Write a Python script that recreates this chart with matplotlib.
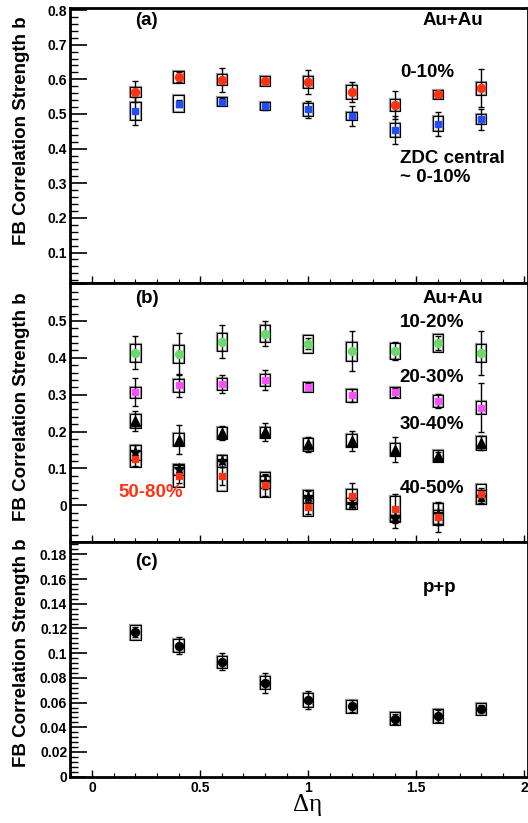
import matplotlib

matplotlib.use("Agg")
import matplotlib.pyplot as plt
import numpy as np
from matplotlib.patches import Rectangle
from matplotlib.ticker import FuncFormatter, MultipleLocator

plt.rcParams["font.family"] = ["Liberation Sans", "DejaVu Sans"]
plt.rcParams["font.weight"] = "bold"

# Delta eta bins
d_eta = [0.2, 0.4, 0.6, 0.8, 1.0, 1.2, 1.4, 1.6, 1.8]

# (a) Au+Au central
b_0_10 = [0.564, 0.607, 0.599, 0.595, 0.592, 0.564, 0.526, 0.557, 0.574]
stat_0_10 = [0.030, 0.015, 0.035, 0.008, 0.034, 0.029, 0.040, 0.010, 0.055]
sys_0_10 = [0.015, 0.017, 0.016, 0.014, 0.017, 0.020, 0.016, 0.013, 0.019]

b_zdc = [0.509, 0.530, 0.536, 0.524, 0.513, 0.494, 0.453, 0.472, 0.485]
stat_zdc = [0.040, 0.010, 0.010, 0.012, 0.025, 0.028, 0.040, 0.035, 0.030]
sys_zdc = [0.027, 0.024, 0.013, 0.012, 0.018, 0.011, 0.020, 0.021, 0.015]

# (b) Au+Au other centralities
b_10_20 = [0.414, 0.411, 0.444, 0.466, 0.438, 0.418, 0.418, 0.440, 0.414]
stat_10_20 = [0.045, 0.057, 0.045, 0.033, 0.015, 0.055, 0.025, 0.020, 0.060]
sys_10_20 = [0.0245, 0.0245, 0.0245, 0.024, 0.024, 0.026, 0.022, 0.025, 0.024]

b_20_30 = [0.307, 0.325, 0.329, 0.340, 0.322, 0.298, 0.307, 0.283, 0.265]
stat_20_30 = [0.037, 0.031, 0.025, 0.028, 0.010, 0.017, 0.012, 0.018, 0.067]
sys_20_30 = [0.015, 0.017, 0.017, 0.016, 0.0135, 0.017, 0.015, 0.016, 0.017]

b_30_40 = [0.228, 0.178, 0.196, 0.198, 0.165, 0.175, 0.151, 0.133, 0.169]
stat_30_40 = [0.027, 0.040, 0.020, 0.024, 0.021, 0.027, 0.033, 0.012, 0.018]
sys_30_40 = [0.019, 0.018, 0.017, 0.015, 0.018, 0.018, 0.018, 0.016, 0.020]

b_40_50 = [0.144, 0.097, 0.120, 0.063, 0.023, 0.004, -0.036, -0.025, 0.022]
stat_40_50 = [0.020, 0.012, 0.015, 0.020, 0.015, 0.010, 0.025, 0.030, 0.015]
sys_40_50 = [0.020, 0.014, 0.015, 0.015, 0.018, 0.015, 0.010, 0.030, 0.020]

b_50_80 = [0.126, 0.079, 0.079, 0.056, -0.005, 0.024, -0.009, -0.032, 0.030]
stat_50_80 = [0.020, 0.020, 0.025, 0.030, 0.020, 0.035, 0.040, 0.040, 0.018]
sys_50_80 = [0.022, 0.030, 0.040, 0.035, 0.025, 0.020, 0.033, 0.020, 0.028]

# (c) p+p
b_pp = [0.117, 0.106, 0.093, 0.076, 0.062, 0.057, 0.047, 0.049, 0.055]
stat_pp = [0.004, 0.007, 0.007, 0.008, 0.007, 0.005, 0.004, 0.005, 0.003]
sys_pp = [0.006, 0.0054, 0.005, 0.0054, 0.0054, 0.0053, 0.005, 0.0058, 0.005]

RED = "#ff3311"
BLUE = "#1f4dff"
GREEN = "#6bd96b"
MAGENTA = "#ff4dff"

BOX_HW = 0.024


def fmt_tick(v, pos):
    v = round(v, 6) + 0.0
    return f"{v:g}"


def draw_series(ax, y, stat, sys, color, marker, ms):
    for x, yy, s in zip(d_eta, y, sys):
        ax.add_patch(Rectangle((x - BOX_HW, yy - s), 2 * BOX_HW, 2 * s,
                               facecolor="none", edgecolor="#999999",
                               lw=1.6, zorder=2))
        ax.add_patch(Rectangle((x - BOX_HW, yy - s), 2 * BOX_HW, 2 * s,
                               facecolor="none", edgecolor="black",
                               lw=0.8, zorder=2.1))
    ax.errorbar(d_eta, y, yerr=stat, fmt="none", ecolor="black",
                elinewidth=1.0, capsize=2.2, capthick=1.0, zorder=3)
    ax.plot(d_eta, y, linestyle="none", marker=marker, color=color,
            markeredgecolor=color, markersize=ms, zorder=4)


def style_axes(ax, ylim, major, minor, show_x=False, label_range=None):
    ax.set_xlim(-0.103, 2.017)
    ax.set_ylim(*ylim)
    for side in ["left", "bottom", "top", "right"]:
        ax.spines[side].set_linewidth(2.0)
    ax.xaxis.set_major_locator(MultipleLocator(0.5))
    ax.xaxis.set_minor_locator(MultipleLocator(0.1))
    ax.yaxis.set_major_locator(MultipleLocator(major))
    ax.yaxis.set_minor_locator(MultipleLocator(minor))
    ax.tick_params(axis="y", which="major", direction="in", length=12,
                   width=1.2, labelsize=10, pad=2)
    ax.tick_params(axis="y", which="minor", direction="in", length=6,
                   width=1.0)
    ax.tick_params(axis="x", which="major", direction="in", length=5,
                   width=1.0, labelsize=10, pad=3)
    ax.tick_params(axis="x", which="minor", direction="in", length=3,
                   width=0.8)
    ax.tick_params(top=False, right=False, which="both")
    if label_range is None:
        ax.yaxis.set_major_formatter(FuncFormatter(fmt_tick))
    else:
        lo, hi = label_range
        ax.yaxis.set_major_formatter(FuncFormatter(
            lambda v, p: fmt_tick(v, p) if lo <= v <= hi else ""))
    if show_x:
        ax.xaxis.set_major_formatter(FuncFormatter(fmt_tick))
    else:
        ax.set_xticklabels([])
    for lab in ax.get_yticklabels() + ax.get_xticklabels():
        lab.set_fontweight("bold")


fig = plt.figure(figsize=(5.28, 8.23), dpi=100)
left = 0.1326
width = 1.0 - left
ax_a = fig.add_axes([left, 0.6561, width, 0.3342])
ax_b = fig.add_axes([left, 0.3414, width, 0.3147])
ax_c = fig.add_axes([left, 0.0563, width, 0.2851])

# panel (a)
draw_series(ax_a, b_zdc, stat_zdc, sys_zdc, BLUE, "s", 4.8)
draw_series(ax_a, b_0_10, stat_0_10, sys_0_10, RED, "o", 5.8)
style_axes(ax_a, (0.012, 0.806), 0.1, 0.02)
txt = dict(fontsize=13.5, fontweight="bold", va="center", ha="left")
ax_a.text(0.142, 0.956, "(a)", transform=ax_a.transAxes, **txt)
ax_a.text(0.769, 0.956, "Au+Au", transform=ax_a.transAxes, **txt)
ax_a.text(0.72, 0.767, "0-10%", transform=ax_a.transAxes, **txt)
ax_a.text(0.72, 0.451, "ZDC central", transform=ax_a.transAxes, **txt)
ax_a.text(0.72, 0.385, "~ 0-10%", transform=ax_a.transAxes, **txt)

# panel (b)
draw_series(ax_b, b_10_20, stat_10_20, sys_10_20, GREEN, "o", 5.8)
draw_series(ax_b, b_20_30, stat_20_30, sys_20_30, MAGENTA, "s", 4.8)
draw_series(ax_b, b_30_40, stat_30_40, sys_30_40, "black", "^", 6.5)
draw_series(ax_b, b_40_50, stat_40_50, sys_40_50, "black", "*", 8)
draw_series(ax_b, b_50_80, stat_50_80, sys_50_80, RED, "s", 4.8)
style_axes(ax_b, (-0.1, 0.603), 0.1, 0.02, label_range=(-0.05, 0.55))
ax_b.text(0.142, 0.942, "(b)", transform=ax_b.transAxes, **txt)
ax_b.text(0.769, 0.942, "Au+Au", transform=ax_b.transAxes, **txt)
ax_b.text(0.72, 0.849, "10-20%", transform=ax_b.transAxes, **txt)
ax_b.text(0.72, 0.637, "20-30%", transform=ax_b.transAxes, **txt)
ax_b.text(0.72, 0.452, "30-40%", transform=ax_b.transAxes, **txt)
ax_b.text(0.72, 0.208, "40-50%", transform=ax_b.transAxes, **txt)
ax_b.text(0.105, 0.193, "50-80%", transform=ax_b.transAxes, color=RED, **txt)

# panel (c)
draw_series(ax_c, b_pp, stat_pp, sys_pp, "black", "o", 5.8)
style_axes(ax_c, (0.0, 0.19), 0.02, 0.004, show_x=True)
ax_c.text(0.142, 0.919, "(c)", transform=ax_c.transAxes, **txt)
ax_c.text(0.771, 0.808, "p+p", transform=ax_c.transAxes, **txt)

# axis titles
for yc in [0.8408, 0.5055, 0.2066]:
    fig.text(0.040, yc, "FB Correlation Strength b", rotation=90,
             fontsize=13.5, fontweight="bold", ha="center", va="center")
fig.text(308 / 528, 1 - 805 / 823, "Δη", family="Liberation Serif",
         fontweight="normal", fontsize=18, ha="center", va="center")

fig.savefig("out.png", dpi=100)
